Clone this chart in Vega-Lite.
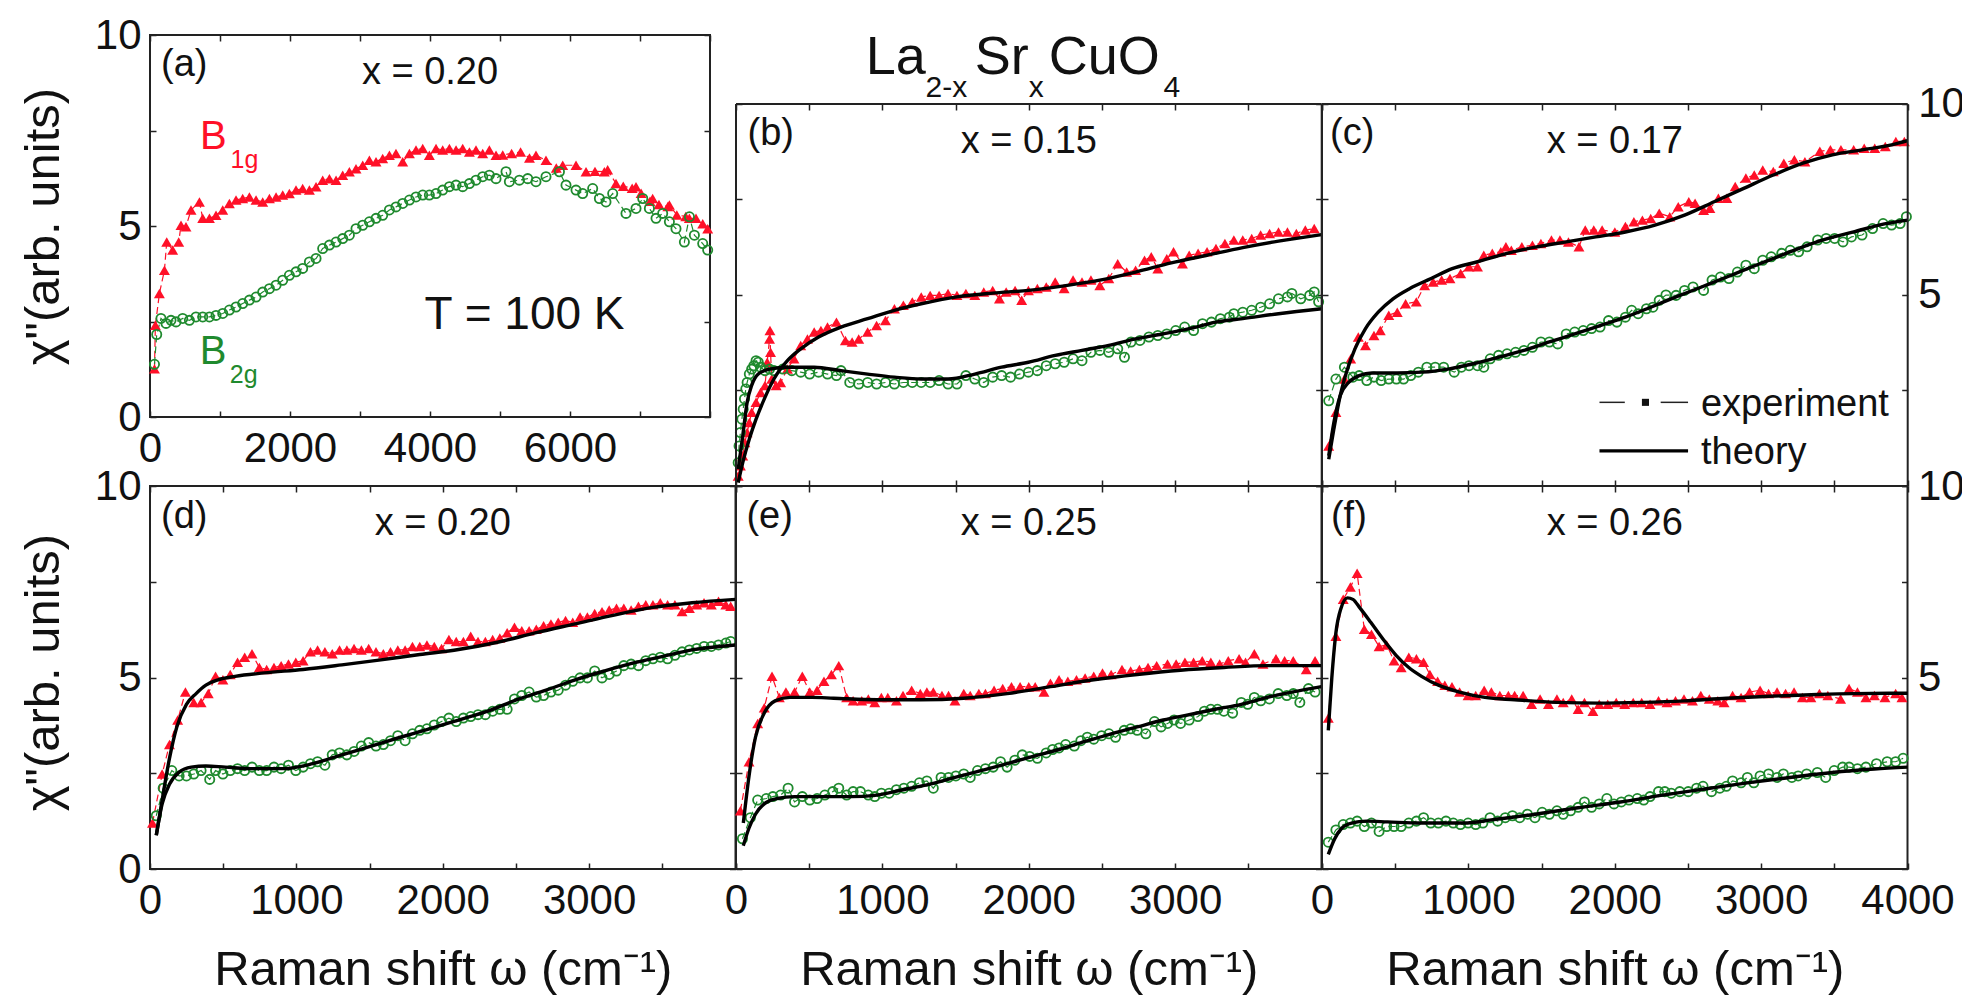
{
"$schema": "https://vega.github.io/schema/vega-lite/v6.json",
"background": "white",
"padding": {"left": 18, "top": 13, "right": 0, "bottom": 0},
"autosize": {"type": "pad"},
"config": {
  "font": "Liberation Sans",
  "view": {"stroke": "#222", "strokeWidth": 2},
  "axis": {"domain": false, "grid": false, "tickColor": "#222", "tickWidth": 1.5, "tickSize": -6,
    "labelFont": "Liberation Sans", "labelFontSize": 42, "labelColor": "#111",
    "labelFlush": false, "labelOverlap": false, "labelBound": false,
    "titleFont": "Liberation Sans", "titleFontWeight": "normal", "titleColor": "#111"},
  "axisBottom": {"labelPadding": 17},
  "axisLeft": {"labelPadding": 15},
  "axisRight": {"labelPadding": 16},
  "text": {"font": "Liberation Sans", "color": "#111"}
},
"datasets": {
"ar": [{"x":64,"y":1.26},{"x":77,"y":2.4},{"x":134,"y":3.23},{"x":206,"y":3.84},{"x":239,"y":4.58},{"x":324,"y":4.37},{"x":410,"y":4.58},{"x":443,"y":5.02},{"x":514,"y":4.98},{"x":586,"y":5.42},{"x":706,"y":5.63},{"x":753,"y":5.2},{"x":849,"y":5.2},{"x":943,"y":5.28},{"x":1039,"y":5.42},{"x":1134,"y":5.59},{"x":1229,"y":5.68},{"x":1324,"y":5.72},{"x":1420,"y":5.76},{"x":1515,"y":5.68},{"x":1610,"y":5.63},{"x":1706,"y":5.72},{"x":1801,"y":5.76},{"x":1896,"y":5.81},{"x":1991,"y":5.85},{"x":2086,"y":5.94},{"x":2181,"y":5.98},{"x":2277,"y":5.94},{"x":2372,"y":6.03},{"x":2467,"y":6.2},{"x":2563,"y":6.24},{"x":2658,"y":6.2},{"x":2753,"y":6.33},{"x":2848,"y":6.42},{"x":2943,"y":6.5},{"x":3039,"y":6.59},{"x":3134,"y":6.72},{"x":3229,"y":6.68},{"x":3324,"y":6.77},{"x":3420,"y":6.85},{"x":3514,"y":6.9},{"x":3610,"y":6.68},{"x":3706,"y":6.9},{"x":3800,"y":6.99},{"x":3896,"y":7.03},{"x":3991,"y":6.85},{"x":4086,"y":7.03},{"x":4181,"y":6.99},{"x":4277,"y":7.03},{"x":4372,"y":6.99},{"x":4467,"y":7.03},{"x":4563,"y":6.94},{"x":4657,"y":6.99},{"x":4753,"y":6.9},{"x":4848,"y":6.99},{"x":4943,"y":6.85},{"x":5039,"y":6.86},{"x":5166,"y":6.9},{"x":5294,"y":6.94},{"x":5421,"y":6.78},{"x":5514,"y":6.85},{"x":5657,"y":6.72},{"x":5804,"y":6.52},{"x":5896,"y":6.59},{"x":6086,"y":6.59},{"x":6229,"y":6.42},{"x":6357,"y":6.43},{"x":6491,"y":6.42},{"x":6538,"y":6.47},{"x":6657,"y":6.11},{"x":6761,"y":6.04},{"x":6888,"y":5.99},{"x":6943,"y":6.03},{"x":7016,"y":5.86},{"x":7143,"y":5.65},{"x":7181,"y":5.72},{"x":7271,"y":5.56},{"x":7398,"y":5.51},{"x":7420,"y":5.55},{"x":7526,"y":5.29},{"x":7653,"y":5.25},{"x":7705,"y":5.2},{"x":7800,"y":5.2},{"x":7896,"y":5.06},{"x":7967,"y":4.93}],
"ag": [{"x":64,"y":1.38},{"x":96,"y":2.16},{"x":157,"y":2.58},{"x":229,"y":2.45},{"x":300,"y":2.53},{"x":372,"y":2.49},{"x":467,"y":2.58},{"x":563,"y":2.53},{"x":657,"y":2.62},{"x":753,"y":2.62},{"x":849,"y":2.62},{"x":943,"y":2.66},{"x":1039,"y":2.71},{"x":1134,"y":2.8},{"x":1229,"y":2.88},{"x":1324,"y":2.97},{"x":1420,"y":3.06},{"x":1515,"y":3.14},{"x":1610,"y":3.27},{"x":1706,"y":3.36},{"x":1801,"y":3.45},{"x":1896,"y":3.58},{"x":1991,"y":3.71},{"x":2086,"y":3.8},{"x":2181,"y":3.89},{"x":2277,"y":4.06},{"x":2372,"y":4.15},{"x":2467,"y":4.41},{"x":2563,"y":4.5},{"x":2658,"y":4.58},{"x":2753,"y":4.67},{"x":2848,"y":4.76},{"x":2943,"y":4.93},{"x":3039,"y":5.02},{"x":3134,"y":5.11},{"x":3229,"y":5.2},{"x":3324,"y":5.28},{"x":3420,"y":5.42},{"x":3514,"y":5.5},{"x":3610,"y":5.59},{"x":3706,"y":5.68},{"x":3800,"y":5.76},{"x":3896,"y":5.81},{"x":3991,"y":5.81},{"x":4086,"y":5.85},{"x":4181,"y":5.94},{"x":4277,"y":6.03},{"x":4372,"y":6.07},{"x":4467,"y":6.03},{"x":4563,"y":6.11},{"x":4657,"y":6.2},{"x":4753,"y":6.29},{"x":4848,"y":6.33},{"x":4943,"y":6.24},{"x":5086,"y":6.42},{"x":5134,"y":6.16},{"x":5277,"y":6.2},{"x":5396,"y":6.24},{"x":5514,"y":6.16},{"x":5657,"y":6.29},{"x":5849,"y":6.42},{"x":5943,"y":6.07},{"x":6086,"y":5.94},{"x":6181,"y":5.85},{"x":6324,"y":5.98},{"x":6420,"y":5.72},{"x":6514,"y":5.63},{"x":6610,"y":5.85},{"x":6800,"y":5.33},{"x":6943,"y":5.46},{"x":7039,"y":5.72},{"x":7134,"y":5.46},{"x":7229,"y":5.2},{"x":7324,"y":5.33},{"x":7420,"y":5.11},{"x":7514,"y":4.93},{"x":7634,"y":4.58},{"x":7706,"y":5.24},{"x":7777,"y":4.76},{"x":7896,"y":4.54},{"x":7967,"y":4.37}],
"br": [{"x":15,"y":0.26},{"x":30,"y":0.53},{"x":46,"y":0.79},{"x":61,"y":1.14},{"x":76,"y":1.4},{"x":91,"y":1.66},{"x":107,"y":1.93},{"x":137,"y":2.19},{"x":168,"y":2.45},{"x":198,"y":2.63},{"x":213,"y":3.24},{"x":229,"y":3.85},{"x":232,"y":4.07},{"x":236,"y":3.5},{"x":244,"y":2.8},{"x":274,"y":2.63},{"x":305,"y":2.71},{"x":351,"y":3.06},{"x":396,"y":3.33},{"x":442,"y":3.68},{"x":488,"y":3.85},{"x":534,"y":4.03},{"x":580,"y":4.07},{"x":625,"y":4.16},{"x":686,"y":4.29},{"x":747,"y":3.81},{"x":793,"y":3.77},{"x":838,"y":3.85},{"x":899,"y":4.03},{"x":960,"y":4.2},{"x":1021,"y":4.33},{"x":1082,"y":4.64},{"x":1143,"y":4.73},{"x":1204,"y":4.82},{"x":1265,"y":4.95},{"x":1326,"y":4.99},{"x":1387,"y":4.99},{"x":1448,"y":5.04},{"x":1509,"y":4.99},{"x":1570,"y":5.04},{"x":1631,"y":4.99},{"x":1692,"y":5.08},{"x":1753,"y":5.12},{"x":1799,"y":4.9},{"x":1845,"y":5.08},{"x":1906,"y":5.12},{"x":1951,"y":4.86},{"x":1997,"y":5.12},{"x":2058,"y":5.17},{"x":2119,"y":5.21},{"x":2180,"y":5.34},{"x":2241,"y":5.17},{"x":2302,"y":5.39},{"x":2363,"y":5.34},{"x":2424,"y":5.39},{"x":2485,"y":5.25},{"x":2546,"y":5.43},{"x":2607,"y":5.82},{"x":2668,"y":5.6},{"x":2729,"y":5.65},{"x":2790,"y":5.91},{"x":2836,"y":6.0},{"x":2881,"y":5.69},{"x":2942,"y":5.95},{"x":2988,"y":6.13},{"x":3049,"y":5.82},{"x":3095,"y":6.04},{"x":3156,"y":6.09},{"x":3217,"y":6.13},{"x":3278,"y":6.22},{"x":3339,"y":6.35},{"x":3400,"y":6.44},{"x":3461,"y":6.44},{"x":3522,"y":6.48},{"x":3583,"y":6.57},{"x":3644,"y":6.61},{"x":3705,"y":6.65},{"x":3766,"y":6.65},{"x":3827,"y":6.61},{"x":3888,"y":6.7},{"x":3949,"y":6.74}],
"btr": [{"x":15,"y":0.09},{"x":46,"y":0.61},{"x":91,"y":1.23},{"x":137,"y":1.75},{"x":198,"y":2.32},{"x":259,"y":2.8},{"x":351,"y":3.28},{"x":442,"y":3.59},{"x":564,"y":3.9},{"x":717,"y":4.16},{"x":899,"y":4.38},{"x":1082,"y":4.6},{"x":1265,"y":4.77},{"x":1509,"y":4.95},{"x":1753,"y":5.05},{"x":1997,"y":5.12},{"x":2241,"y":5.24},{"x":2485,"y":5.39},{"x":2729,"y":5.6},{"x":2973,"y":5.84},{"x":3217,"y":6.04},{"x":3461,"y":6.24},{"x":3705,"y":6.41},{"x":4000,"y":6.58}],
"bg": [{"x":15,"y":0.61},{"x":21,"y":1.05},{"x":30,"y":1.4},{"x":40,"y":1.75},{"x":49,"y":2.01},{"x":58,"y":2.28},{"x":67,"y":2.54},{"x":76,"y":2.71},{"x":91,"y":2.93},{"x":107,"y":3.06},{"x":122,"y":3.15},{"x":137,"y":3.28},{"x":152,"y":3.24},{"x":168,"y":3.11},{"x":198,"y":3.02},{"x":229,"y":3.06},{"x":259,"y":3.02},{"x":320,"y":3.06},{"x":381,"y":3.02},{"x":442,"y":2.98},{"x":503,"y":2.93},{"x":564,"y":2.98},{"x":625,"y":2.93},{"x":686,"y":2.89},{"x":717,"y":3.02},{"x":777,"y":2.71},{"x":838,"y":2.67},{"x":899,"y":2.71},{"x":960,"y":2.67},{"x":1021,"y":2.71},{"x":1082,"y":2.67},{"x":1143,"y":2.71},{"x":1204,"y":2.71},{"x":1265,"y":2.71},{"x":1326,"y":2.71},{"x":1387,"y":2.76},{"x":1448,"y":2.67},{"x":1509,"y":2.67},{"x":1570,"y":2.89},{"x":1631,"y":2.8},{"x":1692,"y":2.71},{"x":1753,"y":2.85},{"x":1814,"y":2.89},{"x":1875,"y":2.85},{"x":1936,"y":2.93},{"x":1997,"y":2.98},{"x":2058,"y":3.02},{"x":2119,"y":3.15},{"x":2180,"y":3.2},{"x":2241,"y":3.24},{"x":2302,"y":3.33},{"x":2363,"y":3.28},{"x":2424,"y":3.5},{"x":2485,"y":3.55},{"x":2546,"y":3.5},{"x":2607,"y":3.59},{"x":2653,"y":3.37},{"x":2698,"y":3.77},{"x":2759,"y":3.81},{"x":2820,"y":3.9},{"x":2881,"y":3.94},{"x":2942,"y":3.98},{"x":3003,"y":4.07},{"x":3064,"y":4.16},{"x":3125,"y":4.07},{"x":3186,"y":4.25},{"x":3247,"y":4.29},{"x":3308,"y":4.38},{"x":3369,"y":4.42},{"x":3400,"y":4.51},{"x":3461,"y":4.55},{"x":3522,"y":4.6},{"x":3583,"y":4.68},{"x":3644,"y":4.77},{"x":3705,"y":4.9},{"x":3766,"y":4.95},{"x":3796,"y":5.04},{"x":3857,"y":4.9},{"x":3918,"y":4.99},{"x":3949,"y":5.08},{"x":3979,"y":4.82}],
"btg": [{"x":15,"y":0.44},{"x":46,"y":1.31},{"x":76,"y":2.19},{"x":107,"y":2.63},{"x":152,"y":2.93},{"x":229,"y":3.06},{"x":351,"y":3.11},{"x":534,"y":3.11},{"x":717,"y":3.02},{"x":899,"y":2.93},{"x":1082,"y":2.85},{"x":1265,"y":2.8},{"x":1448,"y":2.8},{"x":1631,"y":2.93},{"x":1814,"y":3.11},{"x":1997,"y":3.24},{"x":2180,"y":3.42},{"x":2363,"y":3.55},{"x":2546,"y":3.68},{"x":2729,"y":3.85},{"x":2912,"y":3.98},{"x":3095,"y":4.12},{"x":3278,"y":4.29},{"x":3461,"y":4.38},{"x":3705,"y":4.51},{"x":4000,"y":4.64}],
"cr": [{"x":46,"y":1.05},{"x":95,"y":1.93},{"x":153,"y":2.8},{"x":196,"y":3.33},{"x":248,"y":3.9},{"x":297,"y":3.68},{"x":355,"y":3.94},{"x":398,"y":4.07},{"x":456,"y":4.47},{"x":514,"y":4.55},{"x":571,"y":4.77},{"x":644,"y":4.82},{"x":701,"y":5.25},{"x":759,"y":5.34},{"x":817,"y":5.39},{"x":874,"y":5.43},{"x":947,"y":5.56},{"x":1004,"y":5.74},{"x":1062,"y":5.74},{"x":1105,"y":6.04},{"x":1163,"y":6.09},{"x":1221,"y":6.13},{"x":1256,"y":6.26},{"x":1293,"y":6.17},{"x":1365,"y":6.26},{"x":1437,"y":6.3},{"x":1495,"y":6.35},{"x":1567,"y":6.44},{"x":1625,"y":6.44},{"x":1683,"y":6.39},{"x":1755,"y":6.26},{"x":1798,"y":6.7},{"x":1856,"y":6.7},{"x":1913,"y":6.7},{"x":2000,"y":6.65},{"x":2072,"y":6.79},{"x":2130,"y":6.92},{"x":2188,"y":6.96},{"x":2245,"y":7.0},{"x":2303,"y":7.14},{"x":2375,"y":7.05},{"x":2433,"y":7.31},{"x":2505,"y":7.44},{"x":2548,"y":7.4},{"x":2606,"y":7.22},{"x":2649,"y":7.27},{"x":2707,"y":7.53},{"x":2765,"y":7.53},{"x":2822,"y":7.84},{"x":2895,"y":8.06},{"x":2952,"y":8.14},{"x":3010,"y":8.27},{"x":3082,"y":8.23},{"x":3154,"y":8.45},{"x":3226,"y":8.54},{"x":3298,"y":8.49},{"x":3400,"y":8.76},{"x":3472,"y":8.8},{"x":3544,"y":8.8},{"x":3631,"y":8.8},{"x":3703,"y":8.84},{"x":3775,"y":8.84},{"x":3847,"y":8.89},{"x":3919,"y":9.02},{"x":3977,"y":9.02}],
"ctr": [{"x":46,"y":0.7},{"x":81,"y":1.49},{"x":124,"y":2.36},{"x":167,"y":2.98},{"x":225,"y":3.59},{"x":297,"y":4.12},{"x":384,"y":4.55},{"x":485,"y":4.9},{"x":600,"y":5.17},{"x":745,"y":5.43},{"x":889,"y":5.69},{"x":1062,"y":5.87},{"x":1264,"y":6.09},{"x":1466,"y":6.26},{"x":1668,"y":6.39},{"x":1870,"y":6.52},{"x":2072,"y":6.65},{"x":2274,"y":6.83},{"x":2476,"y":7.09},{"x":2678,"y":7.44},{"x":2880,"y":7.79},{"x":3082,"y":8.14},{"x":3284,"y":8.45},{"x":3486,"y":8.67},{"x":3688,"y":8.8},{"x":3890,"y":8.93},{"x":4000,"y":9.04}],
"cg": [{"x":46,"y":2.23},{"x":95,"y":2.8},{"x":153,"y":3.11},{"x":211,"y":2.85},{"x":254,"y":2.89},{"x":306,"y":2.76},{"x":355,"y":2.85},{"x":404,"y":2.76},{"x":456,"y":2.8},{"x":508,"y":2.8},{"x":557,"y":2.8},{"x":606,"y":2.89},{"x":658,"y":2.98},{"x":716,"y":3.11},{"x":773,"y":3.11},{"x":831,"y":3.11},{"x":903,"y":2.98},{"x":952,"y":3.11},{"x":1004,"y":3.15},{"x":1062,"y":3.15},{"x":1105,"y":3.11},{"x":1149,"y":3.33},{"x":1206,"y":3.42},{"x":1264,"y":3.46},{"x":1322,"y":3.5},{"x":1379,"y":3.55},{"x":1437,"y":3.63},{"x":1495,"y":3.77},{"x":1553,"y":3.77},{"x":1610,"y":3.72},{"x":1668,"y":3.98},{"x":1726,"y":4.03},{"x":1784,"y":4.07},{"x":1841,"y":4.12},{"x":1899,"y":4.16},{"x":1957,"y":4.33},{"x":2014,"y":4.29},{"x":2072,"y":4.42},{"x":2115,"y":4.6},{"x":2159,"y":4.51},{"x":2216,"y":4.64},{"x":2260,"y":4.68},{"x":2303,"y":4.86},{"x":2349,"y":5.0},{"x":2418,"y":4.99},{"x":2476,"y":5.12},{"x":2534,"y":5.21},{"x":2606,"y":5.12},{"x":2664,"y":5.39},{"x":2721,"y":5.47},{"x":2779,"y":5.43},{"x":2837,"y":5.6},{"x":2895,"y":5.78},{"x":2952,"y":5.69},{"x":3010,"y":5.91},{"x":3068,"y":6.0},{"x":3140,"y":6.09},{"x":3198,"y":6.17},{"x":3255,"y":6.13},{"x":3313,"y":6.26},{"x":3385,"y":6.44},{"x":3443,"y":6.48},{"x":3501,"y":6.48},{"x":3558,"y":6.39},{"x":3616,"y":6.52},{"x":3688,"y":6.57},{"x":3760,"y":6.74},{"x":3832,"y":6.87},{"x":3890,"y":6.83},{"x":3948,"y":6.87},{"x":3991,"y":7.05}],
"ctg": [{"x":46,"y":0.79},{"x":81,"y":1.66},{"x":124,"y":2.36},{"x":182,"y":2.71},{"x":254,"y":2.89},{"x":341,"y":2.96},{"x":514,"y":2.96},{"x":687,"y":2.98},{"x":860,"y":3.06},{"x":1033,"y":3.2},{"x":1206,"y":3.37},{"x":1379,"y":3.55},{"x":1553,"y":3.77},{"x":1726,"y":3.98},{"x":1899,"y":4.2},{"x":2072,"y":4.42},{"x":2245,"y":4.68},{"x":2418,"y":4.95},{"x":2592,"y":5.21},{"x":2765,"y":5.47},{"x":2938,"y":5.74},{"x":3111,"y":6.0},{"x":3284,"y":6.26},{"x":3457,"y":6.48},{"x":3631,"y":6.65},{"x":3804,"y":6.83},{"x":4000,"y":6.96}],
"dr": [{"x":17,"y":1.2},{"x":83,"y":2.48},{"x":133,"y":3.25},{"x":189,"y":3.89},{"x":242,"y":4.62},{"x":299,"y":4.35},{"x":349,"y":4.35},{"x":398,"y":4.58},{"x":448,"y":5.03},{"x":498,"y":4.94},{"x":548,"y":5.08},{"x":598,"y":5.4},{"x":647,"y":5.53},{"x":697,"y":5.62},{"x":747,"y":5.26},{"x":797,"y":5.21},{"x":847,"y":5.26},{"x":896,"y":5.31},{"x":946,"y":5.35},{"x":996,"y":5.4},{"x":1046,"y":5.44},{"x":1096,"y":5.67},{"x":1145,"y":5.72},{"x":1195,"y":5.67},{"x":1245,"y":5.62},{"x":1295,"y":5.72},{"x":1345,"y":5.72},{"x":1394,"y":5.76},{"x":1444,"y":5.72},{"x":1494,"y":5.76},{"x":1544,"y":5.67},{"x":1594,"y":5.62},{"x":1643,"y":5.67},{"x":1693,"y":5.72},{"x":1743,"y":5.72},{"x":1793,"y":5.81},{"x":1843,"y":5.81},{"x":1892,"y":5.85},{"x":1942,"y":5.81},{"x":1992,"y":5.76},{"x":2042,"y":5.99},{"x":2092,"y":5.94},{"x":2141,"y":5.94},{"x":2191,"y":6.08},{"x":2241,"y":5.94},{"x":2291,"y":5.94},{"x":2341,"y":5.99},{"x":2390,"y":6.03},{"x":2440,"y":6.17},{"x":2490,"y":6.31},{"x":2540,"y":6.22},{"x":2590,"y":6.22},{"x":2639,"y":6.26},{"x":2689,"y":6.35},{"x":2739,"y":6.4},{"x":2789,"y":6.44},{"x":2839,"y":6.49},{"x":2888,"y":6.44},{"x":2938,"y":6.58},{"x":2988,"y":6.58},{"x":3038,"y":6.67},{"x":3088,"y":6.72},{"x":3137,"y":6.76},{"x":3187,"y":6.81},{"x":3237,"y":6.81},{"x":3287,"y":6.76},{"x":3337,"y":6.86},{"x":3387,"y":6.9},{"x":3436,"y":6.9},{"x":3486,"y":6.95},{"x":3536,"y":6.9},{"x":3586,"y":6.9},{"x":3635,"y":6.72},{"x":3685,"y":6.81},{"x":3735,"y":6.9},{"x":3785,"y":6.95},{"x":3835,"y":6.9},{"x":3884,"y":6.99},{"x":3934,"y":6.9},{"x":3967,"y":6.86}],
"dtr": [{"x":43,"y":0.88},{"x":83,"y":1.8},{"x":133,"y":2.89},{"x":183,"y":3.71},{"x":249,"y":4.3},{"x":315,"y":4.58},{"x":382,"y":4.8},{"x":465,"y":4.94},{"x":581,"y":5.03},{"x":780,"y":5.12},{"x":1046,"y":5.21},{"x":1311,"y":5.33},{"x":1577,"y":5.46},{"x":1843,"y":5.6},{"x":2108,"y":5.73},{"x":2374,"y":5.92},{"x":2639,"y":6.17},{"x":2905,"y":6.4},{"x":3171,"y":6.63},{"x":3436,"y":6.83},{"x":3702,"y":6.95},{"x":4000,"y":7.04}],
"dg": [{"x":43,"y":1.39},{"x":90,"y":2.11},{"x":149,"y":2.57},{"x":199,"y":2.43},{"x":249,"y":2.43},{"x":299,"y":2.48},{"x":349,"y":2.57},{"x":408,"y":2.34},{"x":448,"y":2.57},{"x":498,"y":2.48},{"x":548,"y":2.57},{"x":598,"y":2.62},{"x":647,"y":2.57},{"x":697,"y":2.66},{"x":747,"y":2.57},{"x":797,"y":2.57},{"x":847,"y":2.66},{"x":896,"y":2.62},{"x":946,"y":2.71},{"x":996,"y":2.57},{"x":1046,"y":2.66},{"x":1096,"y":2.75},{"x":1145,"y":2.8},{"x":1195,"y":2.71},{"x":1245,"y":2.98},{"x":1295,"y":3.03},{"x":1345,"y":2.98},{"x":1394,"y":3.07},{"x":1444,"y":3.21},{"x":1494,"y":3.3},{"x":1544,"y":3.21},{"x":1594,"y":3.25},{"x":1643,"y":3.35},{"x":1693,"y":3.48},{"x":1743,"y":3.35},{"x":1793,"y":3.53},{"x":1843,"y":3.62},{"x":1892,"y":3.66},{"x":1942,"y":3.76},{"x":1992,"y":3.85},{"x":2042,"y":3.94},{"x":2092,"y":3.85},{"x":2141,"y":3.94},{"x":2191,"y":3.98},{"x":2241,"y":4.03},{"x":2291,"y":4.03},{"x":2341,"y":4.12},{"x":2390,"y":4.17},{"x":2440,"y":4.17},{"x":2490,"y":4.44},{"x":2540,"y":4.53},{"x":2590,"y":4.62},{"x":2639,"y":4.49},{"x":2689,"y":4.53},{"x":2739,"y":4.62},{"x":2789,"y":4.67},{"x":2839,"y":4.8},{"x":2888,"y":4.9},{"x":2938,"y":4.99},{"x":2988,"y":4.99},{"x":3038,"y":5.17},{"x":3088,"y":4.99},{"x":3137,"y":5.08},{"x":3187,"y":5.17},{"x":3237,"y":5.31},{"x":3287,"y":5.35},{"x":3337,"y":5.31},{"x":3387,"y":5.44},{"x":3436,"y":5.49},{"x":3486,"y":5.53},{"x":3536,"y":5.49},{"x":3586,"y":5.58},{"x":3635,"y":5.67},{"x":3685,"y":5.72},{"x":3735,"y":5.76},{"x":3785,"y":5.81},{"x":3835,"y":5.81},{"x":3884,"y":5.85},{"x":3934,"y":5.9},{"x":3967,"y":5.94}],
"dtg": [{"x":43,"y":0.88},{"x":83,"y":1.7},{"x":133,"y":2.21},{"x":199,"y":2.53},{"x":282,"y":2.66},{"x":382,"y":2.69},{"x":515,"y":2.66},{"x":714,"y":2.62},{"x":913,"y":2.62},{"x":1112,"y":2.75},{"x":1311,"y":2.98},{"x":1511,"y":3.21},{"x":1710,"y":3.44},{"x":1909,"y":3.66},{"x":2108,"y":3.89},{"x":2307,"y":4.12},{"x":2507,"y":4.42},{"x":2706,"y":4.67},{"x":2905,"y":4.94},{"x":3104,"y":5.17},{"x":3303,"y":5.38},{"x":3503,"y":5.55},{"x":3702,"y":5.72},{"x":4000,"y":5.85}],
"er": [{"x":30,"y":1.52},{"x":89,"y":2.8},{"x":148,"y":3.8},{"x":193,"y":4.21},{"x":246,"y":5.03},{"x":296,"y":4.48},{"x":341,"y":4.62},{"x":400,"y":4.62},{"x":453,"y":5.03},{"x":504,"y":4.62},{"x":554,"y":4.67},{"x":601,"y":4.9},{"x":652,"y":5.08},{"x":702,"y":5.31},{"x":756,"y":4.48},{"x":800,"y":4.39},{"x":859,"y":4.39},{"x":904,"y":4.44},{"x":948,"y":4.35},{"x":993,"y":4.48},{"x":1037,"y":4.48},{"x":1096,"y":4.39},{"x":1141,"y":4.53},{"x":1200,"y":4.67},{"x":1259,"y":4.58},{"x":1304,"y":4.62},{"x":1348,"y":4.62},{"x":1407,"y":4.53},{"x":1452,"y":4.53},{"x":1496,"y":4.39},{"x":1556,"y":4.58},{"x":1600,"y":4.53},{"x":1659,"y":4.58},{"x":1704,"y":4.58},{"x":1763,"y":4.67},{"x":1822,"y":4.71},{"x":1882,"y":4.76},{"x":1941,"y":4.76},{"x":2000,"y":4.76},{"x":2044,"y":4.76},{"x":2104,"y":4.62},{"x":2148,"y":4.85},{"x":2207,"y":4.94},{"x":2267,"y":4.9},{"x":2326,"y":4.94},{"x":2385,"y":4.99},{"x":2444,"y":5.03},{"x":2504,"y":5.12},{"x":2563,"y":5.08},{"x":2637,"y":5.21},{"x":2696,"y":5.17},{"x":2756,"y":5.21},{"x":2815,"y":5.26},{"x":2874,"y":5.31},{"x":2948,"y":5.35},{"x":3007,"y":5.35},{"x":3067,"y":5.4},{"x":3126,"y":5.4},{"x":3185,"y":5.44},{"x":3244,"y":5.4},{"x":3304,"y":5.35},{"x":3363,"y":5.44},{"x":3437,"y":5.49},{"x":3481,"y":5.4},{"x":3541,"y":5.62},{"x":3600,"y":5.35},{"x":3689,"y":5.49},{"x":3748,"y":5.44},{"x":3807,"y":5.44},{"x":3896,"y":5.21},{"x":3956,"y":5.44}],
"etr": [{"x":50,"y":1.2},{"x":89,"y":2.43},{"x":133,"y":3.44},{"x":193,"y":4.07},{"x":267,"y":4.39},{"x":370,"y":4.48},{"x":519,"y":4.48},{"x":667,"y":4.46},{"x":963,"y":4.42},{"x":1259,"y":4.42},{"x":1556,"y":4.46},{"x":1852,"y":4.58},{"x":2148,"y":4.76},{"x":2444,"y":4.94},{"x":2741,"y":5.08},{"x":3037,"y":5.19},{"x":3333,"y":5.26},{"x":3630,"y":5.31},{"x":4000,"y":5.31}],
"eg": [{"x":44,"y":0.79},{"x":98,"y":1.34},{"x":148,"y":1.8},{"x":207,"y":1.84},{"x":252,"y":1.89},{"x":305,"y":1.93},{"x":356,"y":2.11},{"x":400,"y":1.75},{"x":453,"y":1.89},{"x":504,"y":1.8},{"x":554,"y":1.84},{"x":607,"y":1.93},{"x":661,"y":2.02},{"x":702,"y":2.11},{"x":756,"y":1.93},{"x":800,"y":2.02},{"x":850,"y":2.02},{"x":904,"y":1.93},{"x":948,"y":1.89},{"x":993,"y":1.98},{"x":1046,"y":1.98},{"x":1096,"y":2.07},{"x":1147,"y":2.11},{"x":1200,"y":2.16},{"x":1253,"y":2.25},{"x":1304,"y":2.3},{"x":1348,"y":2.11},{"x":1401,"y":2.39},{"x":1452,"y":2.39},{"x":1502,"y":2.43},{"x":1556,"y":2.48},{"x":1600,"y":2.39},{"x":1650,"y":2.57},{"x":1704,"y":2.62},{"x":1757,"y":2.66},{"x":1807,"y":2.8},{"x":1852,"y":2.66},{"x":1905,"y":2.84},{"x":1956,"y":2.98},{"x":2006,"y":2.94},{"x":2059,"y":2.89},{"x":2119,"y":3.03},{"x":2163,"y":3.12},{"x":2207,"y":3.16},{"x":2252,"y":3.25},{"x":2311,"y":3.21},{"x":2356,"y":3.35},{"x":2400,"y":3.44},{"x":2444,"y":3.39},{"x":2498,"y":3.48},{"x":2548,"y":3.53},{"x":2593,"y":3.44},{"x":2652,"y":3.62},{"x":2696,"y":3.66},{"x":2741,"y":3.62},{"x":2800,"y":3.53},{"x":2859,"y":3.85},{"x":2904,"y":3.71},{"x":2948,"y":3.8},{"x":2993,"y":3.89},{"x":3037,"y":3.8},{"x":3096,"y":3.89},{"x":3156,"y":3.98},{"x":3200,"y":4.12},{"x":3244,"y":4.17},{"x":3289,"y":4.17},{"x":3333,"y":4.12},{"x":3393,"y":4.07},{"x":3452,"y":4.35},{"x":3496,"y":4.3},{"x":3541,"y":4.48},{"x":3585,"y":4.39},{"x":3644,"y":4.44},{"x":3704,"y":4.58},{"x":3763,"y":4.53},{"x":3807,"y":4.58},{"x":3852,"y":4.35},{"x":3911,"y":4.71},{"x":3956,"y":4.62}],
"etg": [{"x":50,"y":0.61},{"x":89,"y":1.07},{"x":133,"y":1.43},{"x":193,"y":1.7},{"x":281,"y":1.84},{"x":400,"y":1.89},{"x":578,"y":1.89},{"x":785,"y":1.89},{"x":963,"y":1.93},{"x":1141,"y":2.07},{"x":1319,"y":2.21},{"x":1496,"y":2.39},{"x":1674,"y":2.57},{"x":1852,"y":2.75},{"x":2030,"y":2.94},{"x":2207,"y":3.12},{"x":2385,"y":3.33},{"x":2563,"y":3.53},{"x":2741,"y":3.71},{"x":2919,"y":3.89},{"x":3096,"y":4.03},{"x":3274,"y":4.17},{"x":3452,"y":4.3},{"x":3630,"y":4.48},{"x":4000,"y":4.76}],
"fr": [{"x":43,"y":3.94},{"x":95,"y":6.08},{"x":145,"y":7.04},{"x":194,"y":7.36},{"x":240,"y":7.72},{"x":289,"y":6.26},{"x":338,"y":6.13},{"x":390,"y":5.81},{"x":442,"y":5.85},{"x":492,"y":5.44},{"x":541,"y":5.26},{"x":593,"y":5.53},{"x":645,"y":5.49},{"x":694,"y":5.4},{"x":737,"y":5.08},{"x":790,"y":4.9},{"x":839,"y":4.8},{"x":888,"y":4.76},{"x":940,"y":4.62},{"x":998,"y":4.53},{"x":1050,"y":4.53},{"x":1108,"y":4.67},{"x":1157,"y":4.62},{"x":1215,"y":4.53},{"x":1273,"y":4.53},{"x":1316,"y":4.53},{"x":1374,"y":4.53},{"x":1432,"y":4.3},{"x":1490,"y":4.44},{"x":1547,"y":4.3},{"x":1605,"y":4.44},{"x":1648,"y":4.35},{"x":1706,"y":4.44},{"x":1750,"y":4.17},{"x":1793,"y":4.35},{"x":1851,"y":4.12},{"x":1894,"y":4.3},{"x":1952,"y":4.3},{"x":2010,"y":4.35},{"x":2068,"y":4.3},{"x":2126,"y":4.35},{"x":2184,"y":4.35},{"x":2241,"y":4.3},{"x":2299,"y":4.39},{"x":2357,"y":4.35},{"x":2415,"y":4.39},{"x":2473,"y":4.44},{"x":2531,"y":4.39},{"x":2588,"y":4.53},{"x":2646,"y":4.44},{"x":2704,"y":4.39},{"x":2747,"y":4.35},{"x":2805,"y":4.53},{"x":2863,"y":4.48},{"x":2921,"y":4.62},{"x":2993,"y":4.67},{"x":3051,"y":4.58},{"x":3109,"y":4.62},{"x":3167,"y":4.58},{"x":3225,"y":4.62},{"x":3282,"y":4.48},{"x":3340,"y":4.48},{"x":3398,"y":4.58},{"x":3456,"y":4.53},{"x":3543,"y":4.44},{"x":3601,"y":4.71},{"x":3658,"y":4.62},{"x":3716,"y":4.48},{"x":3774,"y":4.53},{"x":3846,"y":4.48},{"x":3919,"y":4.58},{"x":3962,"y":4.48}],
"ftr": [{"x":43,"y":3.62},{"x":67,"y":4.99},{"x":95,"y":6.17},{"x":130,"y":6.81},{"x":174,"y":7.08},{"x":211,"y":7.04},{"x":260,"y":6.81},{"x":333,"y":6.44},{"x":419,"y":5.99},{"x":506,"y":5.58},{"x":593,"y":5.26},{"x":680,"y":5.03},{"x":795,"y":4.8},{"x":940,"y":4.62},{"x":1113,"y":4.48},{"x":1316,"y":4.42},{"x":1605,"y":4.35},{"x":1894,"y":4.33},{"x":2184,"y":4.35},{"x":2473,"y":4.39},{"x":2762,"y":4.46},{"x":3051,"y":4.51},{"x":3340,"y":4.55},{"x":3629,"y":4.58},{"x":4000,"y":4.59}],
"fg": [{"x":43,"y":0.7},{"x":95,"y":1.02},{"x":145,"y":1.16},{"x":194,"y":1.2},{"x":240,"y":1.25},{"x":289,"y":1.11},{"x":338,"y":1.2},{"x":390,"y":0.98},{"x":442,"y":1.11},{"x":492,"y":1.11},{"x":541,"y":1.11},{"x":593,"y":1.2},{"x":645,"y":1.25},{"x":694,"y":1.34},{"x":743,"y":1.2},{"x":795,"y":1.2},{"x":847,"y":1.25},{"x":897,"y":1.2},{"x":946,"y":1.16},{"x":998,"y":1.2},{"x":1050,"y":1.16},{"x":1099,"y":1.2},{"x":1148,"y":1.34},{"x":1200,"y":1.25},{"x":1252,"y":1.34},{"x":1301,"y":1.39},{"x":1351,"y":1.34},{"x":1403,"y":1.43},{"x":1455,"y":1.34},{"x":1504,"y":1.48},{"x":1553,"y":1.43},{"x":1605,"y":1.52},{"x":1648,"y":1.43},{"x":1698,"y":1.52},{"x":1750,"y":1.61},{"x":1793,"y":1.75},{"x":1842,"y":1.61},{"x":1894,"y":1.7},{"x":1946,"y":1.84},{"x":1995,"y":1.7},{"x":2045,"y":1.75},{"x":2097,"y":1.8},{"x":2154,"y":1.84},{"x":2198,"y":1.8},{"x":2241,"y":1.89},{"x":2299,"y":2.02},{"x":2342,"y":2.02},{"x":2386,"y":1.98},{"x":2444,"y":2.02},{"x":2502,"y":2.02},{"x":2559,"y":2.11},{"x":2603,"y":2.16},{"x":2661,"y":2.02},{"x":2718,"y":2.11},{"x":2762,"y":2.16},{"x":2805,"y":2.3},{"x":2863,"y":2.25},{"x":2906,"y":2.39},{"x":2950,"y":2.25},{"x":2993,"y":2.43},{"x":3051,"y":2.48},{"x":3109,"y":2.39},{"x":3152,"y":2.48},{"x":3210,"y":2.39},{"x":3253,"y":2.43},{"x":3311,"y":2.48},{"x":3384,"y":2.52},{"x":3441,"y":2.39},{"x":3499,"y":2.57},{"x":3557,"y":2.66},{"x":3601,"y":2.66},{"x":3658,"y":2.62},{"x":3716,"y":2.66},{"x":3788,"y":2.75},{"x":3861,"y":2.8},{"x":3919,"y":2.8},{"x":3970,"y":2.89}],
"ftg": [{"x":43,"y":0.38},{"x":87,"y":0.79},{"x":136,"y":1.07},{"x":202,"y":1.2},{"x":304,"y":1.25},{"x":448,"y":1.23},{"x":680,"y":1.2},{"x":969,"y":1.2},{"x":1171,"y":1.29},{"x":1460,"y":1.43},{"x":1750,"y":1.6},{"x":2039,"y":1.75},{"x":2328,"y":1.93},{"x":2617,"y":2.09},{"x":2906,"y":2.25},{"x":3196,"y":2.39},{"x":3485,"y":2.52},{"x":3774,"y":2.61},{"x":4000,"y":2.66}]
},
"columns": 3,
"spacing": 0,
"bounds": "flush",
"align": "all",
"concat": [
{
 "width": 560, "height": 382,
 "data": {"values": [{}]},
 "layer": [
  {"data": {"name": "ar"}, "mark": {"type": "line", "color": "#ff1028", "strokeWidth": 1.2, "strokeDash": [7, 4]},
   "encoding": {
    "x": {"field": "x", "type": "quantitative", "scale": {"domain": [0, 8000], "nice": false},
      "axis": {"orient": "bottom", "values": [0,1000,2000,3000,4000,5000,6000,7000,8000], "format": "d", "labelExpr": "datum.value % 2000 == 0 && datum.value < 8000 ? datum.label : ''", "title": null}},
    "y": {"field": "y", "type": "quantitative", "scale": {"domain": [0, 10], "nice": false},
      "axis": {"orient": "left", "values": [0,2.5,5,7.5,10], "format": "d", "labelExpr": "datum.value % 5 == 0 ? datum.label : ''", "title": "χ\"(arb. units)", "titleFontSize": 49, "titleAngle": -90, "titleAlign": "center", "titleBaseline": "alphabetic", "titleX": -92, "titleY": 191}}}},
  {"data": {"name": "ag"}, "mark": {"type": "line", "color": "#1f8a2e", "strokeWidth": 1.2, "strokeDash": [7, 4]},
   "encoding": {"x": {"field": "x", "type": "quantitative", "axis": null}, "y": {"field": "y", "type": "quantitative", "axis": null}}},
  {"data": {"name": "ar"}, "mark": {"type": "point", "shape": "triangle-up", "filled": true, "color": "#ff1028", "size": 120, "opacity": 1},
   "encoding": {"x": {"field": "x", "type": "quantitative", "axis": null}, "y": {"field": "y", "type": "quantitative", "axis": null}}},
  {"data": {"name": "ag"}, "mark": {"type": "point", "shape": "circle", "filled": false, "color": "#1f8a2e", "size": 85, "strokeWidth": 1.8, "opacity": 1},
   "encoding": {"x": {"field": "x", "type": "quantitative", "axis": null}, "y": {"field": "y", "type": "quantitative", "axis": null}}},
  {"mark": {"type": "text", "text": "(a)", "fontSize": 38, "align": "left", "baseline": "alphabetic"},
   "encoding": {"x": {"datum": 157, "type": "quantitative", "axis": null}, "y": {"datum": 8.93, "type": "quantitative", "axis": null}}},
  {"mark": {"type": "text", "text": "x = 0.20", "fontSize": 38, "align": "center", "baseline": "alphabetic"},
   "encoding": {"x": {"datum": 4000, "type": "quantitative", "axis": null}, "y": {"datum": 8.72, "type": "quantitative", "axis": null}}},
  {"mark": {"type": "text", "text": "B", "fontSize": 40, "align": "left", "baseline": "alphabetic", "color": "#ff1028"},
   "encoding": {"x": {"datum": 714, "type": "quantitative", "axis": null}, "y": {"datum": 7.01, "type": "quantitative", "axis": null}}},
  {"mark": {"type": "text", "text": "1g", "fontSize": 25, "align": "left", "baseline": "alphabetic", "color": "#ff1028"},
   "encoding": {"x": {"datum": 1150, "type": "quantitative", "axis": null}, "y": {"datum": 6.52, "type": "quantitative", "axis": null}}},
  {"mark": {"type": "text", "text": "B", "fontSize": 40, "align": "left", "baseline": "alphabetic", "color": "#1f8a2e"},
   "encoding": {"x": {"datum": 710, "type": "quantitative", "axis": null}, "y": {"datum": 1.39, "type": "quantitative", "axis": null}}},
  {"mark": {"type": "text", "text": "2g", "fontSize": 25, "align": "left", "baseline": "alphabetic", "color": "#1f8a2e"},
   "encoding": {"x": {"datum": 1140, "type": "quantitative", "axis": null}, "y": {"datum": 0.9, "type": "quantitative", "axis": null}}},
  {"mark": {"type": "text", "text": "T = 100 K", "fontSize": 46, "align": "left", "baseline": "alphabetic"},
   "encoding": {"x": {"datum": 3923, "type": "quantitative", "axis": null}, "y": {"datum": 2.31, "type": "quantitative", "axis": null}}},
  {"mark": {"type": "point", "opacity": 0},
   "encoding": {"x": {"datum": 0, "type": "quantitative", "axis": {"orient": "top", "values": [0,1000,2000,3000,4000,5000,6000,7000,8000], "labels": false, "title": null}},
                "y": {"datum": 0, "type": "quantitative", "axis": {"orient": "right", "values": [0,2.5,5,7.5,10], "labels": false, "title": null}}}}
 ],
 "resolve": {"axis": {"x": "independent", "y": "independent"}}
},
{
 "width": 585.7, "height": 451,
 "view": {"stroke": null},
 "data": {"values": [{}]},
 "layer": [
  {"data": {"name": "br"}, "mark": {"type": "line", "color": "#ff1028", "strokeWidth": 1.2, "strokeDash": [7, 4]},
   "encoding": {
    "x": {"field": "x", "type": "quantitative", "scale": {"domain": [0, 4000], "nice": false},
      "axis": {"orient": "bottom", "values": [0,500,1000,1500,2000,2500,3000,3500,4000], "labels": false, "title": null}},
    "y": {"field": "y", "type": "quantitative", "scale": {"domain": [0, 11.806], "nice": false},
      "axis": {"orient": "left", "values": [0,2.5,5,7.5,10], "labels": false, "title": null}}}},
  {"data": {"name": "bg"}, "mark": {"type": "line", "color": "#1f8a2e", "strokeWidth": 1.2, "strokeDash": [7, 4]},
   "encoding": {"x": {"field": "x", "type": "quantitative", "axis": null}, "y": {"field": "y", "type": "quantitative", "axis": null}}},
  {"data": {"name": "br"}, "mark": {"type": "point", "shape": "triangle-up", "filled": true, "color": "#ff1028", "size": 120, "opacity": 1},
   "encoding": {"x": {"field": "x", "type": "quantitative", "axis": null}, "y": {"field": "y", "type": "quantitative", "axis": null}}},
  {"data": {"name": "bg"}, "mark": {"type": "point", "shape": "circle", "filled": false, "color": "#1f8a2e", "size": 85, "strokeWidth": 1.8, "opacity": 1},
   "encoding": {"x": {"field": "x", "type": "quantitative", "axis": null}, "y": {"field": "y", "type": "quantitative", "axis": null}}},
  {"data": {"name": "btr"}, "mark": {"type": "line", "color": "#000", "strokeWidth": 3.4, "interpolate": "monotone"},
   "encoding": {"x": {"field": "x", "type": "quantitative", "axis": null}, "y": {"field": "y", "type": "quantitative", "axis": null}}},
  {"data": {"name": "btg"}, "mark": {"type": "line", "color": "#000", "strokeWidth": 3.4, "interpolate": "monotone"},
   "encoding": {"x": {"field": "x", "type": "quantitative", "axis": null}, "y": {"field": "y", "type": "quantitative", "axis": null}}},
  {"mark": {"type": "rule", "color": "#222", "strokeWidth": 2},
   "encoding": {"x": {"datum": 0, "type": "quantitative", "axis": null}, "y": {"datum": 0, "type": "quantitative", "axis": null}, "y2": {"datum": 10}}},
  {"mark": {"type": "rule", "color": "#222", "strokeWidth": 2},
   "encoding": {"x": {"datum": 4000, "type": "quantitative", "axis": null}, "y": {"datum": 0, "type": "quantitative", "axis": null}, "y2": {"datum": 10}}},
  {"mark": {"type": "rule", "color": "#222", "strokeWidth": 2},
   "encoding": {"x": {"datum": 0, "type": "quantitative", "axis": null}, "x2": {"datum": 4000}, "y": {"datum": 10, "type": "quantitative", "axis": null}}},
  {"mark": {"type": "rule", "color": "#222", "strokeWidth": 2},
   "encoding": {"x": {"datum": 0, "type": "quantitative", "axis": null}, "x2": {"datum": 4000}, "y": {"datum": 0, "type": "quantitative", "axis": null}}},
  {"mark": {"type": "text", "text": "(b)", "fontSize": 38, "align": "left", "baseline": "alphabetic"},
   "encoding": {"x": {"datum": 79, "type": "quantitative", "axis": null}, "y": {"datum": 8.93, "type": "quantitative", "axis": null}}},
  {"mark": {"type": "text", "text": "x = 0.15", "fontSize": 38, "align": "center", "baseline": "alphabetic"},
   "encoding": {"x": {"datum": 2000, "type": "quantitative", "axis": null}, "y": {"datum": 8.72, "type": "quantitative", "axis": null}}},
  {"mark": {"type": "text", "text": "La", "fontSize": 54, "align": "left", "baseline": "alphabetic"},
   "encoding": {"x": {"datum": 886, "type": "quantitative", "axis": null}, "y": {"datum": 10.79, "type": "quantitative", "axis": null}}},
  {"mark": {"type": "text", "text": "2-x", "fontSize": 30, "align": "left", "baseline": "alphabetic"},
   "encoding": {"x": {"datum": 1295, "type": "quantitative", "axis": null}, "y": {"datum": 10.19, "type": "quantitative", "axis": null}}},
  {"mark": {"type": "text", "text": "Sr", "fontSize": 54, "align": "left", "baseline": "alphabetic"},
   "encoding": {"x": {"datum": 1630, "type": "quantitative", "axis": null}, "y": {"datum": 10.79, "type": "quantitative", "axis": null}}},
  {"mark": {"type": "text", "text": "x", "fontSize": 30, "align": "left", "baseline": "alphabetic"},
   "encoding": {"x": {"datum": 1999, "type": "quantitative", "axis": null}, "y": {"datum": 10.19, "type": "quantitative", "axis": null}}},
  {"mark": {"type": "text", "text": "CuO", "fontSize": 54, "align": "left", "baseline": "alphabetic"},
   "encoding": {"x": {"datum": 2136, "type": "quantitative", "axis": null}, "y": {"datum": 10.79, "type": "quantitative", "axis": null}}},
  {"mark": {"type": "text", "text": "4", "fontSize": 30, "align": "left", "baseline": "alphabetic"},
   "encoding": {"x": {"datum": 2920, "type": "quantitative", "axis": null}, "y": {"datum": 10.19, "type": "quantitative", "axis": null}}},
  {"mark": {"type": "point", "opacity": 0},
   "encoding": {"x": {"datum": 0, "type": "quantitative", "axis": {"orient": "top", "offset": -69, "values": [0,500,1000,1500,2000,2500,3000,3500,4000], "labels": false, "title": null}},
                "y": {"datum": 0, "type": "quantitative", "axis": {"orient": "right", "values": [0,2.5,5,7.5,10], "labels": false, "title": null}}}}
 ],
 "resolve": {"axis": {"x": "independent", "y": "independent"}}
},
{
 "width": 585.7, "height": 451,
 "view": {"stroke": null},
 "data": {"values": [{}]},
 "layer": [
  {"data": {"name": "cr"}, "mark": {"type": "line", "color": "#ff1028", "strokeWidth": 1.2, "strokeDash": [7, 4]},
   "encoding": {
    "x": {"field": "x", "type": "quantitative", "scale": {"domain": [0, 4000], "nice": false},
      "axis": {"orient": "bottom", "values": [0,500,1000,1500,2000,2500,3000,3500,4000], "labels": false, "title": null}},
    "y": {"field": "y", "type": "quantitative", "scale": {"domain": [0, 11.806], "nice": false},
      "axis": {"orient": "left", "values": [0,2.5,5,7.5,10], "labels": false, "title": null}}}},
  {"data": {"name": "cg"}, "mark": {"type": "line", "color": "#1f8a2e", "strokeWidth": 1.2, "strokeDash": [7, 4]},
   "encoding": {"x": {"field": "x", "type": "quantitative", "axis": null}, "y": {"field": "y", "type": "quantitative", "axis": null}}},
  {"data": {"name": "cr"}, "mark": {"type": "point", "shape": "triangle-up", "filled": true, "color": "#ff1028", "size": 120, "opacity": 1},
   "encoding": {"x": {"field": "x", "type": "quantitative", "axis": null}, "y": {"field": "y", "type": "quantitative", "axis": null}}},
  {"data": {"name": "cg"}, "mark": {"type": "point", "shape": "circle", "filled": false, "color": "#1f8a2e", "size": 85, "strokeWidth": 1.8, "opacity": 1},
   "encoding": {"x": {"field": "x", "type": "quantitative", "axis": null}, "y": {"field": "y", "type": "quantitative", "axis": null}}},
  {"data": {"name": "ctr"}, "mark": {"type": "line", "color": "#000", "strokeWidth": 3.4, "interpolate": "monotone"},
   "encoding": {"x": {"field": "x", "type": "quantitative", "axis": null}, "y": {"field": "y", "type": "quantitative", "axis": null}}},
  {"data": {"name": "ctg"}, "mark": {"type": "line", "color": "#000", "strokeWidth": 3.4, "interpolate": "monotone"},
   "encoding": {"x": {"field": "x", "type": "quantitative", "axis": null}, "y": {"field": "y", "type": "quantitative", "axis": null}}},
  {"mark": {"type": "rule", "color": "#222", "strokeWidth": 2},
   "encoding": {"x": {"datum": 0, "type": "quantitative", "axis": null}, "y": {"datum": 0, "type": "quantitative", "axis": null}, "y2": {"datum": 10}}},
  {"mark": {"type": "rule", "color": "#222", "strokeWidth": 2},
   "encoding": {"x": {"datum": 4000, "type": "quantitative", "axis": null}, "y": {"datum": 0, "type": "quantitative", "axis": null}, "y2": {"datum": 10}}},
  {"mark": {"type": "rule", "color": "#222", "strokeWidth": 2},
   "encoding": {"x": {"datum": 0, "type": "quantitative", "axis": null}, "x2": {"datum": 4000}, "y": {"datum": 10, "type": "quantitative", "axis": null}}},
  {"mark": {"type": "rule", "color": "#222", "strokeWidth": 2},
   "encoding": {"x": {"datum": 0, "type": "quantitative", "axis": null}, "x2": {"datum": 4000}, "y": {"datum": 0, "type": "quantitative", "axis": null}}},
  {"mark": {"type": "text", "text": "(c)", "fontSize": 38, "align": "left", "baseline": "alphabetic"},
   "encoding": {"x": {"datum": 55, "type": "quantitative", "axis": null}, "y": {"datum": 8.93, "type": "quantitative", "axis": null}}},
  {"mark": {"type": "text", "text": "x = 0.17", "fontSize": 38, "align": "center", "baseline": "alphabetic"},
   "encoding": {"x": {"datum": 2000, "type": "quantitative", "axis": null}, "y": {"datum": 8.72, "type": "quantitative", "axis": null}}},
  {"mark": {"type": "rule", "color": "#222", "strokeWidth": 1.5},
   "encoding": {"x": {"datum": 1895, "type": "quantitative", "axis": null}, "x2": {"datum": 2068}, "y": {"datum": 2.19, "type": "quantitative", "axis": null}}},
  {"mark": {"type": "rule", "color": "#222", "strokeWidth": 1.5},
   "encoding": {"x": {"datum": 2313, "type": "quantitative", "axis": null}, "x2": {"datum": 2500}, "y": {"datum": 2.19, "type": "quantitative", "axis": null}}},
  {"mark": {"type": "point", "shape": "square", "filled": true, "color": "#111", "size": 50, "opacity": 1},
   "encoding": {"x": {"datum": 2209, "type": "quantitative", "axis": null}, "y": {"datum": 2.19, "type": "quantitative", "axis": null}}},
  {"mark": {"type": "rule", "color": "#000", "strokeWidth": 3.4},
   "encoding": {"x": {"datum": 1895, "type": "quantitative", "axis": null}, "x2": {"datum": 2500}, "y": {"datum": 0.92, "type": "quantitative", "axis": null}}},
  {"mark": {"type": "text", "text": "experiment", "fontSize": 38, "align": "left", "baseline": "alphabetic"},
   "encoding": {"x": {"datum": 2588, "type": "quantitative", "axis": null}, "y": {"datum": 1.84, "type": "quantitative", "axis": null}}},
  {"mark": {"type": "text", "text": "theory", "fontSize": 38, "align": "left", "baseline": "alphabetic"},
   "encoding": {"x": {"datum": 2588, "type": "quantitative", "axis": null}, "y": {"datum": 0.58, "type": "quantitative", "axis": null}}},
  {"mark": {"type": "point", "opacity": 0},
   "encoding": {"x": {"datum": 0, "type": "quantitative", "axis": {"orient": "top", "offset": -69, "values": [0,500,1000,1500,2000,2500,3000,3500,4000], "labels": false, "title": null}},
                "y": {"datum": 0, "type": "quantitative", "axis": {"orient": "right", "values": [0,2.5,5,7.5,10], "format": "d", "labelExpr": "datum.value >= 5 && datum.value % 5 == 0 ? datum.label : ''", "title": null}}}}
 ],
 "resolve": {"axis": {"x": "independent", "y": "independent"}}
},
{
 "width": 585.5, "height": 383,
 "data": {"values": [{}]},
 "layer": [
  {"data": {"name": "dr"}, "mark": {"type": "line", "color": "#ff1028", "strokeWidth": 1.2, "strokeDash": [7, 4]},
   "encoding": {
    "x": {"field": "x", "type": "quantitative", "scale": {"domain": [0, 4000], "nice": false},
      "axis": {"orient": "bottom", "values": [0,500,1000,1500,2000,2500,3000,3500,4000], "format": "d", "labelExpr": "datum.value % 1000 == 0 && datum.value < 4000 ? datum.label : ''", "title": "Raman shift ω (cm⁻¹)", "titleFontSize": 49, "titleX": 292.75, "titleY": 115, "titleAlign": "center", "titleBaseline": "alphabetic", "titleAngle": 0}},
    "y": {"field": "y", "type": "quantitative", "scale": {"domain": [0, 10], "nice": false},
      "axis": {"orient": "left", "values": [0,2.5,5,7.5,10], "format": "d", "labelExpr": "datum.value % 5 == 0 ? datum.label : ''", "title": "χ\"(arb. units)", "titleFontSize": 49, "titleAngle": -90, "titleAlign": "center", "titleBaseline": "alphabetic", "titleX": -92, "titleY": 186}}}},
  {"data": {"name": "dg"}, "mark": {"type": "line", "color": "#1f8a2e", "strokeWidth": 1.2, "strokeDash": [7, 4]},
   "encoding": {"x": {"field": "x", "type": "quantitative", "axis": null}, "y": {"field": "y", "type": "quantitative", "axis": null}}},
  {"data": {"name": "dr"}, "mark": {"type": "point", "shape": "triangle-up", "filled": true, "color": "#ff1028", "size": 120, "opacity": 1},
   "encoding": {"x": {"field": "x", "type": "quantitative", "axis": null}, "y": {"field": "y", "type": "quantitative", "axis": null}}},
  {"data": {"name": "dg"}, "mark": {"type": "point", "shape": "circle", "filled": false, "color": "#1f8a2e", "size": 85, "strokeWidth": 1.8, "opacity": 1},
   "encoding": {"x": {"field": "x", "type": "quantitative", "axis": null}, "y": {"field": "y", "type": "quantitative", "axis": null}}},
  {"data": {"name": "dtr"}, "mark": {"type": "line", "color": "#000", "strokeWidth": 3.4, "interpolate": "monotone"},
   "encoding": {"x": {"field": "x", "type": "quantitative", "axis": null}, "y": {"field": "y", "type": "quantitative", "axis": null}}},
  {"data": {"name": "dtg"}, "mark": {"type": "line", "color": "#000", "strokeWidth": 3.4, "interpolate": "monotone"},
   "encoding": {"x": {"field": "x", "type": "quantitative", "axis": null}, "y": {"field": "y", "type": "quantitative", "axis": null}}},
  {"mark": {"type": "text", "text": "(d)", "fontSize": 38, "align": "left", "baseline": "alphabetic"},
   "encoding": {"x": {"datum": 75, "type": "quantitative", "axis": null}, "y": {"datum": 8.9, "type": "quantitative", "axis": null}}},
  {"mark": {"type": "text", "text": "x = 0.20", "fontSize": 38, "align": "center", "baseline": "alphabetic"},
   "encoding": {"x": {"datum": 2000, "type": "quantitative", "axis": null}, "y": {"datum": 8.72, "type": "quantitative", "axis": null}}},
  {"mark": {"type": "point", "opacity": 0},
   "encoding": {"x": {"datum": 0, "type": "quantitative", "axis": {"orient": "top", "values": [0,500,1000,1500,2000,2500,3000,3500,4000], "labels": false, "title": null}},
                "y": {"datum": 0, "type": "quantitative", "axis": {"orient": "right", "values": [0,2.5,5,7.5,10], "labels": false, "title": null}}}}
 ],
 "resolve": {"axis": {"x": "independent", "y": "independent"}}
},
{
 "width": 585.5, "height": 383,
 "data": {"values": [{}]},
 "layer": [
  {"data": {"name": "er"}, "mark": {"type": "line", "color": "#ff1028", "strokeWidth": 1.2, "strokeDash": [7, 4]},
   "encoding": {
    "x": {"field": "x", "type": "quantitative", "scale": {"domain": [0, 4000], "nice": false},
      "axis": {"orient": "bottom", "values": [0,500,1000,1500,2000,2500,3000,3500,4000], "format": "d", "labelExpr": "datum.value % 1000 == 0 && datum.value < 4000 ? datum.label : ''", "title": "Raman shift ω (cm⁻¹)", "titleFontSize": 49, "titleX": 292.75, "titleY": 115, "titleAlign": "center", "titleBaseline": "alphabetic", "titleAngle": 0}},
    "y": {"field": "y", "type": "quantitative", "scale": {"domain": [0, 10], "nice": false},
      "axis": {"orient": "left", "values": [0,2.5,5,7.5,10], "labels": false, "title": null}}}},
  {"data": {"name": "eg"}, "mark": {"type": "line", "color": "#1f8a2e", "strokeWidth": 1.2, "strokeDash": [7, 4]},
   "encoding": {"x": {"field": "x", "type": "quantitative", "axis": null}, "y": {"field": "y", "type": "quantitative", "axis": null}}},
  {"data": {"name": "er"}, "mark": {"type": "point", "shape": "triangle-up", "filled": true, "color": "#ff1028", "size": 120, "opacity": 1},
   "encoding": {"x": {"field": "x", "type": "quantitative", "axis": null}, "y": {"field": "y", "type": "quantitative", "axis": null}}},
  {"data": {"name": "eg"}, "mark": {"type": "point", "shape": "circle", "filled": false, "color": "#1f8a2e", "size": 85, "strokeWidth": 1.8, "opacity": 1},
   "encoding": {"x": {"field": "x", "type": "quantitative", "axis": null}, "y": {"field": "y", "type": "quantitative", "axis": null}}},
  {"data": {"name": "etr"}, "mark": {"type": "line", "color": "#000", "strokeWidth": 3.4, "interpolate": "monotone"},
   "encoding": {"x": {"field": "x", "type": "quantitative", "axis": null}, "y": {"field": "y", "type": "quantitative", "axis": null}}},
  {"data": {"name": "etg"}, "mark": {"type": "line", "color": "#000", "strokeWidth": 3.4, "interpolate": "monotone"},
   "encoding": {"x": {"field": "x", "type": "quantitative", "axis": null}, "y": {"field": "y", "type": "quantitative", "axis": null}}},
  {"mark": {"type": "text", "text": "(e)", "fontSize": 38, "align": "left", "baseline": "alphabetic"},
   "encoding": {"x": {"datum": 71, "type": "quantitative", "axis": null}, "y": {"datum": 8.9, "type": "quantitative", "axis": null}}},
  {"mark": {"type": "text", "text": "x = 0.25", "fontSize": 38, "align": "center", "baseline": "alphabetic"},
   "encoding": {"x": {"datum": 2000, "type": "quantitative", "axis": null}, "y": {"datum": 8.72, "type": "quantitative", "axis": null}}},
  {"mark": {"type": "point", "opacity": 0},
   "encoding": {"x": {"datum": 0, "type": "quantitative", "axis": {"orient": "top", "values": [0,500,1000,1500,2000,2500,3000,3500,4000], "labels": false, "title": null}},
                "y": {"datum": 0, "type": "quantitative", "axis": {"orient": "right", "values": [0,2.5,5,7.5,10], "labels": false, "title": null}}}}
 ],
 "resolve": {"axis": {"x": "independent", "y": "independent"}}
},
{
 "width": 585.5, "height": 383,
 "data": {"values": [{}]},
 "layer": [
  {"data": {"name": "fr"}, "mark": {"type": "line", "color": "#ff1028", "strokeWidth": 1.2, "strokeDash": [7, 4]},
   "encoding": {
    "x": {"field": "x", "type": "quantitative", "scale": {"domain": [0, 4000], "nice": false},
      "axis": {"orient": "bottom", "values": [0,500,1000,1500,2000,2500,3000,3500,4000], "format": "d", "labelExpr": "datum.value % 1000 == 0 ? datum.label : ''", "title": "Raman shift ω (cm⁻¹)", "titleFontSize": 49, "titleX": 292.75, "titleY": 115, "titleAlign": "center", "titleBaseline": "alphabetic", "titleAngle": 0}},
    "y": {"field": "y", "type": "quantitative", "scale": {"domain": [0, 10], "nice": false},
      "axis": {"orient": "left", "values": [0,2.5,5,7.5,10], "labels": false, "title": null}}}},
  {"data": {"name": "fg"}, "mark": {"type": "line", "color": "#1f8a2e", "strokeWidth": 1.2, "strokeDash": [7, 4]},
   "encoding": {"x": {"field": "x", "type": "quantitative", "axis": null}, "y": {"field": "y", "type": "quantitative", "axis": null}}},
  {"data": {"name": "fr"}, "mark": {"type": "point", "shape": "triangle-up", "filled": true, "color": "#ff1028", "size": 120, "opacity": 1},
   "encoding": {"x": {"field": "x", "type": "quantitative", "axis": null}, "y": {"field": "y", "type": "quantitative", "axis": null}}},
  {"data": {"name": "fg"}, "mark": {"type": "point", "shape": "circle", "filled": false, "color": "#1f8a2e", "size": 85, "strokeWidth": 1.8, "opacity": 1},
   "encoding": {"x": {"field": "x", "type": "quantitative", "axis": null}, "y": {"field": "y", "type": "quantitative", "axis": null}}},
  {"data": {"name": "ftr"}, "mark": {"type": "line", "color": "#000", "strokeWidth": 3.4, "interpolate": "monotone"},
   "encoding": {"x": {"field": "x", "type": "quantitative", "axis": null}, "y": {"field": "y", "type": "quantitative", "axis": null}}},
  {"data": {"name": "ftg"}, "mark": {"type": "line", "color": "#000", "strokeWidth": 3.4, "interpolate": "monotone"},
   "encoding": {"x": {"field": "x", "type": "quantitative", "axis": null}, "y": {"field": "y", "type": "quantitative", "axis": null}}},
  {"mark": {"type": "text", "text": "(f)", "fontSize": 38, "align": "left", "baseline": "alphabetic"},
   "encoding": {"x": {"datum": 61, "type": "quantitative", "axis": null}, "y": {"datum": 8.9, "type": "quantitative", "axis": null}}},
  {"mark": {"type": "text", "text": "x = 0.26", "fontSize": 38, "align": "center", "baseline": "alphabetic"},
   "encoding": {"x": {"datum": 2000, "type": "quantitative", "axis": null}, "y": {"datum": 8.72, "type": "quantitative", "axis": null}}},
  {"mark": {"type": "point", "opacity": 0},
   "encoding": {"x": {"datum": 0, "type": "quantitative", "axis": {"orient": "top", "values": [0,500,1000,1500,2000,2500,3000,3500,4000], "labels": false, "title": null}},
                "y": {"datum": 0, "type": "quantitative", "axis": {"orient": "right", "values": [0,2.5,5,7.5,10], "format": "d", "labelExpr": "datum.value >= 5 && datum.value % 5 == 0 ? datum.label : ''", "title": null}}}}
 ],
 "resolve": {"axis": {"x": "independent", "y": "independent"}}
}
]
}
